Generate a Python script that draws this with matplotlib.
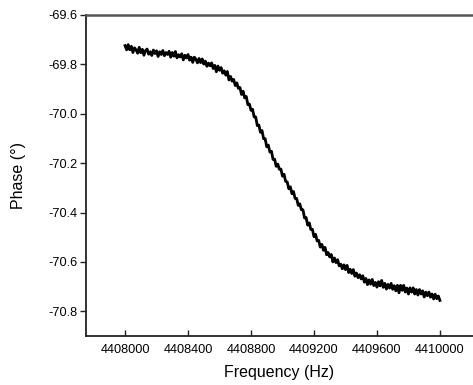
import numpy as np
import matplotlib
matplotlib.use("Agg")
import matplotlib.pyplot as plt

# sweep: start frequency and step (Hz), one phase reading per step
FREQ_START = 4408000
FREQ_STEP = 10

# phase readings (deg)
phase = [
    -69.724, -69.741, -69.720, -69.741, -69.727,
    -69.752, -69.733, -69.741, -69.755, -69.731,
    -69.753, -69.739, -69.763, -69.744, -69.738,
    -69.759, -69.749, -69.764, -69.742, -69.756,
    -69.745, -69.768, -69.749, -69.760, -69.744,
    -69.765, -69.752, -69.760, -69.747, -69.771,
    -69.752, -69.767, -69.748, -69.774, -69.761,
    -69.770, -69.757, -69.782, -69.763, -69.774,
    -69.760, -69.783, -69.771, -69.792, -69.771,
    -69.779, -69.794, -69.776, -69.793, -69.778,
    -69.799, -69.787, -69.808, -69.795, -69.806,
    -69.794, -69.817, -69.804, -69.830, -69.807,
    -69.824, -69.813, -69.836, -69.826, -69.844,
    -69.829, -69.863, -69.849, -69.868, -69.861,
    -69.886, -69.875, -69.897, -69.894, -69.922,
    -69.909, -69.936, -69.930, -69.963, -69.961,
    -69.986, -69.982, -70.013, -70.013, -70.048,
    -70.046, -70.075, -70.068, -70.101, -70.101,
    -70.134, -70.127, -70.155, -70.152, -70.185,
    -70.184, -70.213, -70.204, -70.225, -70.224,
    -70.253, -70.245, -70.274, -70.276, -70.304,
    -70.296, -70.324, -70.315, -70.343, -70.343,
    -70.371, -70.365, -70.389, -70.389, -70.422,
    -70.420, -70.451, -70.442, -70.469, -70.468,
    -70.498, -70.488, -70.515, -70.513, -70.540,
    -70.529, -70.553, -70.541, -70.571, -70.562,
    -70.580, -70.570, -70.600, -70.584, -70.603,
    -70.591, -70.616, -70.609, -70.628, -70.612,
    -70.631, -70.614, -70.643, -70.630, -70.647,
    -70.631, -70.658, -70.645, -70.664, -70.652,
    -70.669, -70.656, -70.682, -70.667, -70.692,
    -70.673, -70.690, -70.671, -70.696, -70.683,
    -70.702, -70.680, -70.697, -70.675, -70.703,
    -70.687, -70.710, -70.691, -70.706, -70.687,
    -70.711, -70.696, -70.717, -70.695, -70.725,
    -70.695, -70.715, -70.695, -70.722, -70.706,
    -70.730, -70.705, -70.722, -70.705, -70.730,
    -70.712, -70.734, -70.712, -70.730, -70.717,
    -70.742, -70.722, -70.737, -70.722, -70.743,
    -70.730, -70.750, -70.731, -70.749, -70.738,
    -70.756,
]

x_ticks = [4408000, 4408400, 4408800, 4409200, 4409600, 4410000]
y_ticks = [-70.8, -70.6, -70.4, -70.2, -70.0, -69.8, -69.6]

freq = FREQ_START + FREQ_STEP * np.arange(len(phase))

plt.rcParams['font.family'] = ['Liberation Sans', 'DejaVu Sans']

fig = plt.figure(figsize=(4.73, 3.85), dpi=100)
ax = fig.add_axes([0.1818, 0.1273, 0.8182, 0.8338])

ax.plot(freq, phase, color='black', lw=2.0)

ax.set_xlim(4407752, 4410210)
ax.set_ylim(-70.9, -69.6)
ax.set_xticks(x_ticks)
ax.set_xticklabels([str(t) for t in x_ticks])
ax.set_yticks(y_ticks)
ax.set_yticklabels([f"{t:.1f}" for t in y_ticks])

ax.tick_params(axis='x', direction='in', length=4.5, width=1.0, pad=6,
               labelsize=9.2, color='#222222')
ax.tick_params(axis='y', direction='out', length=4, width=1.0, pad=2,
               labelsize=9.2, color='#222222')

ax.spines['right'].set_visible(False)
ax.spines['top'].set_color('#555555')
ax.spines['top'].set_linewidth(1.8)
for s in ('left', 'bottom'):
    ax.spines[s].set_color('#222222')
    ax.spines[s].set_linewidth(1.3)

ax.set_xlabel("Frequency (Hz)", fontsize=11.5, labelpad=6)
ax.set_ylabel("Phase (°)", fontsize=11.5, labelpad=16)

fig.savefig("out.png", dpi=100)
